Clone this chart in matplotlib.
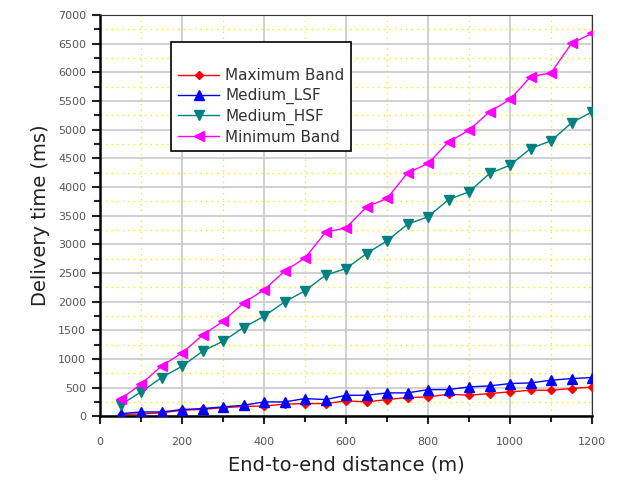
import matplotlib
matplotlib.use("Agg")
import matplotlib.pyplot as plt
from matplotlib.ticker import MultipleLocator

# data
distance = [50, 100, 150, 200, 250, 300, 350, 400, 450, 500, 550, 600,
            650, 700, 750, 800, 850, 900, 950, 1000, 1050, 1100, 1150, 1200]
max_band = [30, 40, 60, 105, 120, 150, 170, 180, 210, 221, 221, 268,
            250, 291, 326, 337, 384, 366, 396, 425, 454, 454, 483, 512]
medium_lsf = [45, 75, 75, 117, 134, 163, 192, 250, 250, 308, 291, 366,
              366, 407, 407, 465, 465, 512, 529, 570, 582, 628, 657, 675]
medium_hsf = [200, 424, 675, 873, 1134, 1309, 1548, 1745, 1995, 2190, 2461, 2577,
              2839, 3060, 3351, 3479, 3781, 3915, 4235, 4380, 4671, 4805, 5119, 5311]
min_band = [300, 560, 878, 1105, 1414, 1658, 1978, 2205, 2530, 2763, 3210, 3287,
            3653, 3799, 4246, 4410, 4788, 4991, 5311, 5527, 5922, 5991, 6504, 6679]

series = [
    ("Maximum Band", max_band, "#ff0000", "D", 4.5),
    ("Medium_LSF", medium_lsf, "#0000ff", "^", 6.5),
    ("Medium_HSF", medium_hsf, "#008080", "v", 6.5),
    ("Minimum Band", min_band, "#ff00ff", "<", 6.5),
]

fig = plt.figure(figsize=(6.18, 4.84), dpi=100)
ax = fig.add_axes([0.162, 0.14, 0.796, 0.829])

for name, vals, col, mk, ms in series:
    ax.plot(distance, vals, color=col, marker=mk, markersize=ms, linewidth=1,
            label=name, zorder=3)

ax.set_xlim(0, 1200)
ax.set_ylim(0, 7000)
ax.xaxis.set_major_locator(MultipleLocator(200))
ax.xaxis.set_minor_locator(MultipleLocator(100))
ax.yaxis.set_major_locator(MultipleLocator(500))
ax.yaxis.set_minor_locator(MultipleLocator(250))

ax.grid(which="major", color="#c8c8c8", linewidth=1.2, zorder=0)
ax.grid(which="minor", color="#f0f000", linestyle=(0, (1, 3)), linewidth=1, zorder=0)

ax.tick_params(which="both", direction="out", width=1.5, colors="#222222",
               labelcolor="#555555", labelsize=8)
ax.tick_params(which="major", length=6)
ax.tick_params(which="minor", length=4)
ax.tick_params(axis="x", which="major", pad=9)
ax.tick_params(axis="y", which="major", pad=4)

for s in ["left", "bottom"]:
    ax.spines[s].set_linewidth(1.8)
for s in ["top", "right"]:
    ax.spines[s].set_linewidth(0.8)
    ax.spines[s].set_color("#333333")

ax.set_xlabel("End-to-end distance (m)", fontsize=14, color="#222222", labelpad=6)
ax.set_ylabel("Delivery time (ms)", fontsize=14, color="#222222", labelpad=6)

leg = ax.legend(loc="upper left", bbox_to_anchor=(171 / 618, 1 - 42 / 484),
                bbox_transform=fig.transFigure, borderaxespad=0, title=" ",
                title_fontsize=11, fancybox=False, framealpha=1, edgecolor="black",
                fontsize=11, handlelength=2.7, handletextpad=0.4, borderpad=0.45,
                labelspacing=0.3)
leg.get_frame().set_linewidth(1.2)
for t in leg.get_texts():
    t.set_color("#333333")

fig.savefig("out.png", dpi=100)
